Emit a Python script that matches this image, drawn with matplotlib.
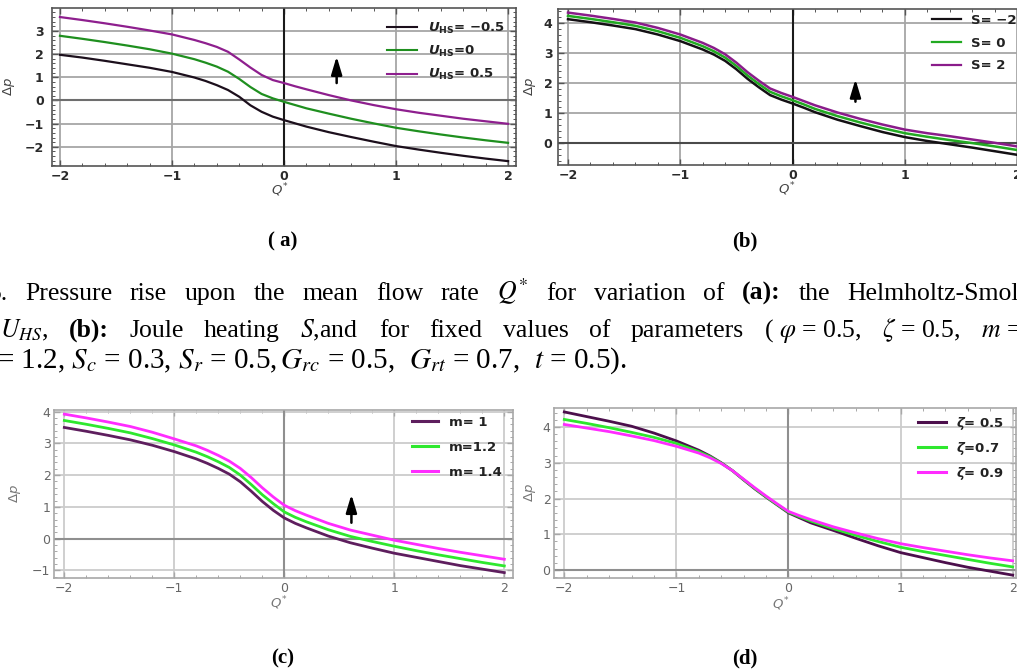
import matplotlib
matplotlib.use("Agg")
import matplotlib.pyplot as plt
from matplotlib.ticker import MultipleLocator

# ---------------- data ----------------
Q = [-2.0, -1.8, -1.6, -1.4, -1.2, -1.0, -0.8, -0.7, -0.6, -0.5, -0.4, -0.3, -0.2,
     -0.1, 0.0, 0.1, 0.2, 0.4, 0.6, 0.8, 1.0, 1.2, 1.4, 1.6, 1.8, 2.0]

# (a) Helmholtz-Smoluchowski velocity U_HS
A_labels = [r"$\mathbfit{U}_{\mathbf{HS}}$= −0.5", r"$\mathbfit{U}_{\mathbf{HS}}$=0",
            r"$\mathbfit{U}_{\mathbf{HS}}$= 0.5"]
A_m05 = [1.97, 1.85, 1.71, 1.56, 1.41, 1.23, 0.99, 0.84, 0.66, 0.45, 0.16, -0.21, -0.49,
         -0.70, -0.85, -0.99, -1.13, -1.37, -1.58, -1.78, -1.97, -2.12, -2.26, -2.39, -2.51, -2.62]
A_0 = [2.79, 2.66, 2.52, 2.37, 2.21, 2.02, 1.78, 1.63, 1.46, 1.24, 0.93, 0.58, 0.28,
       0.09, -0.06, -0.20, -0.34, -0.57, -0.79, -0.99, -1.18, -1.33, -1.47, -1.60, -1.72, -1.83]
A_p05 = [3.60, 3.47, 3.33, 3.18, 3.02, 2.85, 2.61, 2.47, 2.31, 2.10, 1.77, 1.42, 1.10,
         0.88, 0.75, 0.61, 0.48, 0.23, 0.00, -0.20, -0.38, -0.53, -0.66, -0.79, -0.90, -1.01]

# (b) Joule heating S
B_labels = ["S= −2", "S= 0", "S= 2"]
B_m2 = [4.14, 4.04, 3.93, 3.81, 3.63, 3.41, 3.13, 2.96, 2.75, 2.47, 2.15, 1.87, 1.61,
        1.46, 1.33, 1.19, 1.04, 0.79, 0.58, 0.38, 0.21, 0.08, -0.03, -0.14, -0.26, -0.38]
B_0 = [4.25, 4.15, 4.04, 3.92, 3.74, 3.52, 3.24, 3.07, 2.86, 2.58, 2.26, 1.98, 1.72,
       1.57, 1.44, 1.30, 1.15, 0.91, 0.70, 0.51, 0.34, 0.22, 0.11, 0.01, -0.10, -0.22]
B_p2 = [4.36, 4.26, 4.15, 4.03, 3.85, 3.63, 3.35, 3.18, 2.97, 2.69, 2.37, 2.09, 1.83,
        1.68, 1.55, 1.41, 1.27, 1.03, 0.82, 0.63, 0.46, 0.34, 0.24, 0.13, 0.02, -0.10]

# (c) m
C_labels = ["m= 1", "m=1.2", "m= 1.4"]
C_1 = [3.50, 3.38, 3.25, 3.11, 2.94, 2.74, 2.51, 2.37, 2.21, 2.03, 1.79, 1.49, 1.17,
       0.89, 0.65, 0.48, 0.34, 0.08, -0.13, -0.30, -0.46, -0.59, -0.72, -0.85, -0.96, -1.07]
C_12 = [3.72, 3.60, 3.47, 3.33, 3.15, 2.95, 2.72, 2.58, 2.42, 2.24, 2.00, 1.70, 1.38,
        1.10, 0.84, 0.67, 0.53, 0.28, 0.07, -0.09, -0.24, -0.38, -0.51, -0.63, -0.75, -0.86]
C_14 = [3.92, 3.80, 3.67, 3.53, 3.35, 3.14, 2.92, 2.78, 2.62, 2.44, 2.21, 1.92, 1.60,
        1.31, 1.05, 0.88, 0.74, 0.48, 0.27, 0.11, -0.05, -0.18, -0.31, -0.43, -0.54, -0.65]

# (d) zeta
D_labels = [r"$\mathbfit{\zeta}$= 0.5", r"$\mathbfit{\zeta}$=0.7", r"$\mathbfit{\zeta}$= 0.9"]
D_05 = [4.42, 4.29, 4.16, 4.02, 3.83, 3.61, 3.35, 3.19, 3.00, 2.78, 2.52, 2.27, 2.04,
        1.82, 1.60, 1.46, 1.32, 1.11, 0.89, 0.68, 0.49, 0.35, 0.21, 0.08, -0.03, -0.14]
D_07 = [4.21, 4.10, 3.98, 3.85, 3.71, 3.54, 3.31, 3.17, 2.99, 2.78, 2.53, 2.28, 2.05,
        1.83, 1.62, 1.49, 1.37, 1.16, 0.97, 0.80, 0.64, 0.52, 0.41, 0.30, 0.19, 0.09]
D_09 = [4.07, 3.97, 3.87, 3.75, 3.62, 3.46, 3.27, 3.14, 2.98, 2.78, 2.54, 2.30, 2.07,
        1.85, 1.64, 1.52, 1.41, 1.21, 1.04, 0.88, 0.74, 0.63, 0.53, 0.43, 0.34, 0.26]

XTICKS = [-2, -1, 0, 1, 2]
A_YTICKS = [-2, -1, 0, 1, 2, 3]
B_YTICKS = [0, 1, 2, 3, 4]
C_YTICKS = [-1, 0, 1, 2, 3, 4]
D_YTICKS = [0, 1, 2, 3, 4]

CAPTION1 = ["5.", "Pressure", "rise", "upon", "the", "mean", "flow", "rate", "$Q^{*}$", "for",
            "variation", "of", "(a):", "the", "Helmholtz-Smol"]
CAPTION1_BOLD = ["(a):"]
CAPTION2 = ["$U_{HS}$,", "(b):", "Joule", "heating", "$S$,and", "for", "fixed", "values", "of",
            "parameters", r"( $\varphi$ = 0.5,", r"$\zeta$ = 0.5,", "$m$ ="]
CAPTION2_BOLD = ["(b):"]
CAPTION3 = r"= 1.2, $S_c$ = 0.3, $S_r$ = 0.5,$\,G_{rc}$ = 0.5,  $G_{rt}$ = 0.7,  $t$ = 0.5)."
PANEL_TAGS = ["( a)", "(b)", "(c)", "(d)"]

# ---------------- figure ----------------
W, H = 1017, 669
fig = plt.figure(figsize=(W / 100, H / 100), dpi=100)
fig.patch.set_facecolor("white")
SERIF = "Liberation Serif"


def make_axes(l, r, t, b):
    return fig.add_axes([l / W, 1 - b / H, (r - l) / W, (b - t) / H])


def style_panel(ax, xlim, ylim, yticks, frame_c, grid_c, x0_c, y0_c, lab_c, lab_w, ypad):
    ax.set_xlim(*xlim)
    ax.set_ylim(*ylim)
    ax.set_xticks(XTICKS)
    ax.set_yticks(yticks)
    ax.xaxis.set_minor_locator(MultipleLocator(0.2))
    ax.yaxis.set_minor_locator(MultipleLocator(0.2))
    for s in ax.spines.values():
        s.set_color(frame_c)
        s.set_linewidth(1.2)
    ax.tick_params(which="both", direction="in", top=True, right=True, color=frame_c,
                   labelcolor=lab_c, labelsize=9)
    ax.tick_params(which="major", length=4, width=1)
    ax.tick_params(which="minor", length=2, width=0.7)
    ax.tick_params(axis="x", which="major", pad=3)
    ax.tick_params(axis="y", which="major", pad=ypad)
    for lab in ax.get_xticklabels() + ax.get_yticklabels():
        lab.set_fontweight(lab_w)
    ax.grid(True, which="major", color=grid_c, lw=1.3, zorder=0)
    ax.axvline(0, color=x0_c, lw=1.5, zorder=0.6)
    ax.axhline(0, color=y0_c, lw=1.5, zorder=0.6)
    ax.set_axisbelow(True)


def labels(ax, xlab_y, ylab_x, col):
    ax.set_xlabel(r"$Q^{*}$", fontsize=9.5, color=col)
    ax.xaxis.set_label_coords(0.49, xlab_y)
    ax.set_ylabel(r"$\Delta p$", fontsize=9.5, color=col)
    ax.yaxis.set_label_coords(ylab_x, 0.5)


def legend(ax, x, y, hl, ls, lw):
    leg = ax.legend(loc="upper left", bbox_to_anchor=(x, y), frameon=False, borderpad=0,
                    borderaxespad=0, handlelength=hl, handletextpad=0.8, labelspacing=ls,
                    prop={"weight": "bold", "size": 9.5})
    for ln in leg.get_lines():
        ln.set_linewidth(lw)
    for t in leg.get_texts():
        t.set_color("#222222")


def arrow(ax, x, y0, y1):
    ax.annotate("", xy=(x, y1), xytext=(x, y0),
                arrowprops=dict(arrowstyle="-|>,head_length=0.6,head_width=0.18",
                                color="black", lw=1.8, mutation_scale=18,
                                shrinkA=0, shrinkB=0))


# (a)
axA = make_axes(52, 516, 8, 166)
style_panel(axA, (-2.071, 2.071), (-2.83, 3.99), A_YTICKS, "#555555", "#a6a6a6",
            "#1a1a1a", "#6e6e6e", "#2a2a2a", "bold", 6)
for ys, c, lab in zip([A_m05, A_0, A_p05], ["#1c0f1c", "#1f8f1f", "#8e1f8e"], A_labels):
    axA.plot(Q, ys, color=c, lw=1.6, label=lab)
legend(axA, 0.722, 0.92, 2.3, 0.62, 1.5)
arrow(axA, 0.47, 0.75, 1.9)
labels(axA, -0.1, -0.075, "#444444")

# (b)
axB = make_axes(558, 1025, 9, 165)
style_panel(axB, (-2.089, 2.07), (-0.72, 4.48), B_YTICKS, "#555555", "#a6a6a6",
            "#1a1a1a", "#4a4a4a", "#2a2a2a", "bold", 4)
for ys, c, lab in zip([B_m2, B_0, B_p2], ["#141014", "#22aa22", "#8a1c8a"], B_labels):
    axB.plot(Q, ys, color=c, lw=1.8, label=lab)
legend(axB, 0.80, 0.97, 2.2, 0.75, 1.6)
arrow(axB, 0.56, 1.39, 2.14)
labels(axB, -0.1, -0.043, "#444444")

# (c)
axC = make_axes(54, 513, 410, 578)
style_panel(axC, (-2.094, 2.079), (-1.24, 4.05), C_YTICKS, "#a8a8a8", "#cccccc",
            "#8f8f8f", "#8f8f8f", "#666666", "normal", 2.5)
for ys, c, lab in zip([C_1, C_12, C_14], ["#5e1e5e", "#2ee82e", "#ff2cff"], C_labels):
    axC.plot(Q, ys, color=c, lw=2.0, label=lab)
legend(axC, 0.78, 0.965, 2.0, 0.9, 2.2)
arrow(axC, 0.61, 0.5, 1.39)
labels(axC, -0.1, -0.068, "#777777")

# (d)
axD = make_axes(554, 1016, 408, 578)
style_panel(axD, (-2.092, 2.03), (-0.22, 4.53), D_YTICKS, "#a8a8a8", "#cccccc",
            "#8f8f8f", "#8f8f8f", "#666666", "normal", 2.5)
for ys, c, lab in zip([D_05, D_07, D_09], ["#4c0f4c", "#2ee82e", "#ff2cff"], D_labels):
    axD.plot(Q, ys, color=c, lw=2.0, label=lab)
legend(axD, 0.788, 0.96, 2.1, 0.6, 2.2)
labels(axD, -0.1, -0.035, "#777777")

# ---------------- captions ----------------
for tag, (xp, yp) in zip(PANEL_TAGS, [(283, 246), (745, 246), (283, 663), (745, 663)]):
    fig.text(xp / W, 1 - yp / H, tag, ha="center", va="baseline", fontsize=15,
             fontweight="bold", family=SERIF)

renderer = fig.canvas.get_renderer()
CAP_SIZE = 18.5


def justified(words, bold_words, baseline_px, left_px, right_px, size):
    texts = []
    for w in words:
        t = fig.text(0, 1 - baseline_px / H, w, ha="left", va="baseline", fontsize=size,
                     family=SERIF, fontweight="bold" if w in bold_words else "normal",
                     math_fontfamily="stix", color="black")
        texts.append(t)
    widths = [t.get_window_extent(renderer=renderer).width for t in texts]
    gap = (right_px - left_px - sum(widths)) / (len(texts) - 1)
    x = left_px
    for t, wd in zip(texts, widths):
        t.set_x(x / W)
        x += wd + gap


probe = fig.text(0, 0, "5", fontsize=CAP_SIZE, family=SERIF)
w5 = probe.get_window_extent(renderer=renderer).width
probe.remove()
justified(CAPTION1, CAPTION1_BOLD, 300, -w5 + 1, 1019, CAP_SIZE)
justified(CAPTION2, CAPTION2_BOLD, 337, 0, 1021, CAP_SIZE)

t3 = fig.text(-3 / W, 1 - 368 / H, CAPTION3, ha="left", va="baseline", fontsize=CAP_SIZE,
              family=SERIF, math_fontfamily="stix", color="black")
w3 = t3.get_window_extent(renderer=renderer).width
t3.set_fontsize(min(21.0, max(16.0, CAP_SIZE * 631.0 / w3)))

fig.savefig("out.png", dpi=100, facecolor="white")
